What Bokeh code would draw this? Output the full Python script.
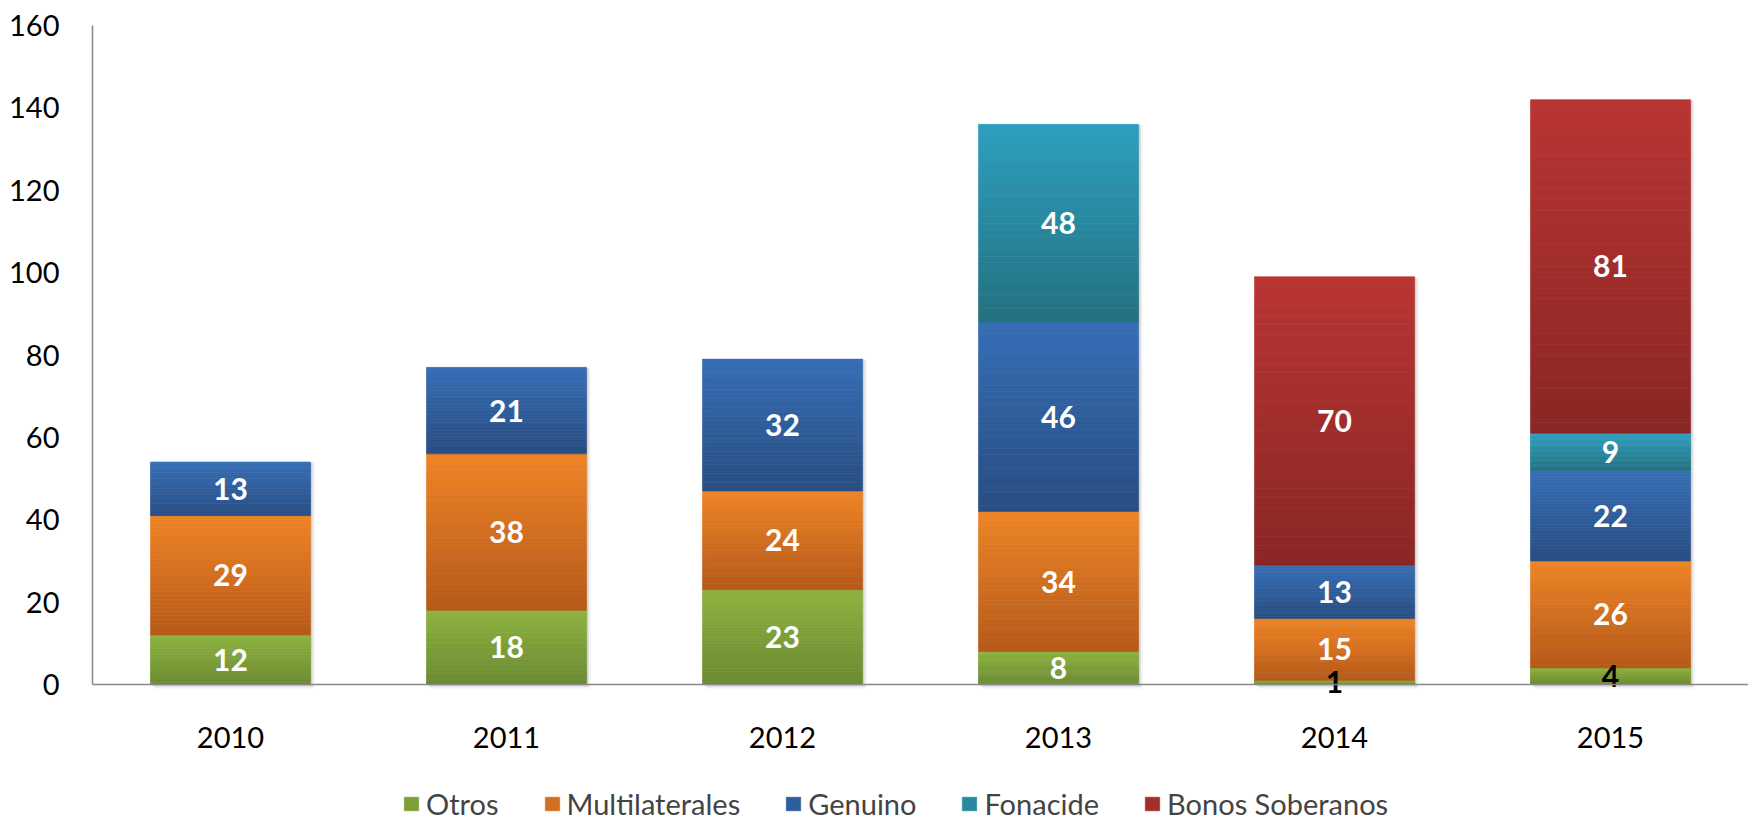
import numpy as np
from bokeh.plotting import figure
from bokeh.models import ColumnDataSource, FactorRange, Range1d, Legend, LegendItem, FixedTicker, Span
from bokeh.transform import dodge
from bokeh.core.properties import value
from bokeh.embed import file_html
from bokeh.resources import INLINE

# ---- data ----
years = ["2010", "2011", "2012", "2013", "2014", "2015"]
series_names = ["Otros", "Multilaterales", "Genuino", "Fonacide", "Bonos Soberanos"]
otros = [12, 18, 23, 8, 1, 4]
multilaterales = [29, 38, 24, 34, 15, 26]
genuino = [13, 21, 32, 46, 13, 22]
fonacide = [0, 0, 0, 48, 0, 9]
bonos_soberanos = [0, 0, 0, 0, 70, 81]
y_ticks = [0, 20, 40, 60, 80, 100, 120, 140, 160]

series_values = [otros, multilaterales, genuino, fonacide, bonos_soberanos]
top_colors = ["#8DB33F", "#EF8426", "#366EB5", "#2E9FBF", "#B93533"]
bottom_colors = ["#6A8A31", "#B5591A", "#284D82", "#22717F", "#892624"]

FONT = "Lato"
N_SLICES = 30
BAR_W = 0.58

# ---- layout (pixels) ----
W, H = 1748, 822
LEFT, TOP = 92, 25
ZERO_PX = 684          # pixel row of value 0
Y_MAX = 160
px_per_unit = (ZERO_PX - TOP) / Y_MAX
y_min = -(H - ZERO_PX) / px_per_unit
xlabel_y = -(737 - ZERO_PX) / px_per_unit
x_px_per_unit = (W - LEFT) / len(years)


def hex2rgb(h):
    h = h.lstrip("#")
    return np.array([int(h[i:i + 2], 16) for i in (0, 2, 4)], dtype=float)


def mix(c_bot, c_top, t):
    a, b = hex2rgb(c_bot), hex2rgb(c_top)
    c = a + (b - a) * t
    return "#%02x%02x%02x" % tuple(int(round(v)) for v in c)


p = figure(width=W, height=H, x_range=FactorRange(factors=years),
           y_range=Range1d(y_min, Y_MAX), output_backend="svg", toolbar_location=None,
           title=None, min_border_left=LEFT, min_border_right=0,
           min_border_top=TOP, min_border_bottom=0)
p.outline_line_color = None
p.xgrid.visible = False
p.ygrid.visible = False
p.background_fill_color = "white"

totals = [sum(s[j] for s in series_values) for j in range(len(years))]

# soft shadow behind each bar
for off_px, alpha in ((4, 0.10), (2.5, 0.14), (1.2, 0.18)):
    p.vbar(x=dodge("x", off_px / x_px_per_unit, range=p.x_range),
           top="top", bottom="bottom", width=BAR_W,
           source=ColumnDataSource(dict(x=years, top=[t - off_px / px_per_unit * 0.3 for t in totals],
                                        bottom=[-off_px / px_per_unit for _ in totals])),
           fill_color="#808080", fill_alpha=alpha, line_color=None)

bases = [0.0] * len(years)
legend_items = []
lbl = dict(x=[], y=[], text=[], color=[])
for si, vals in enumerate(series_values):
    d = dict(x=[], top=[], bottom=[], color=[])
    mid_index = None
    for j, v in enumerate(vals):
        if v <= 0:
            continue
        b0 = bases[j]
        for k in range(N_SLICES):
            if mid_index is None and k == N_SLICES // 2:
                mid_index = len(d["x"])
            d["x"].append(years[j])
            d["bottom"].append(b0 + v * k / N_SLICES)
            d["top"].append(b0 + v * (k + 1) / N_SLICES)
            d["color"].append(mix(bottom_colors[si], top_colors[si], (k + 0.5) / N_SLICES))
        lbl["x"].append(years[j])
        lbl["y"].append(b0 + v / 2)
        lbl["text"].append(str(v))
        lbl["color"].append("white" if v >= 5 else "black")
        bases[j] = b0 + v
    src = ColumnDataSource(d)
    r = p.vbar(x="x", top="top", bottom="bottom", width=BAR_W, source=src,
               fill_color="color", line_color="color", line_width=0.6)
    legend_items.append(LegendItem(label=series_names[si], renderers=[r], index=mid_index))

p.text(x="x", y="y", text="text", text_color="color", source=ColumnDataSource(lbl),
       text_font=value(FONT), text_font_style="bold", text_font_size="30px",
       text_align="center", text_baseline="middle")

# category labels below the zero line
p.text(x=years, y=[xlabel_y] * len(years), text=years, text_color="black",
       text_font=value(FONT), text_font_size="29px",
       text_align="center", text_baseline="middle")

# zero axis line
p.add_layout(Span(location=0, dimension="width", line_color="#888888", line_width=1.5))
p.xaxis.visible = False

ax = p.yaxis[0]
ax.bounds = (0, Y_MAX)
ax.axis_line_color = "#888888"
ax.axis_line_width = 1.5
ax.major_tick_line_color = None
ax.minor_tick_line_color = None
ax.major_tick_out = 0
ax.major_tick_in = 0
ax.minor_tick_out = 0
ax.major_label_text_font = FONT
ax.major_label_text_font_size = "29px"
ax.major_label_text_color = "black"
ax.ticker = FixedTicker(ticks=y_ticks)
ax.major_label_standoff = 33

legend = Legend(items=legend_items, orientation="horizontal", location=(310, 1),
                label_text_font=FONT, label_text_font_size="29px",
                glyph_width=18, glyph_height=17, label_standoff=6, spacing=44,
                border_line_color=None, background_fill_alpha=0, padding=0, margin=0)
p.add_layout(legend, "center")

open("out.html", "w").write(file_html(p, INLINE))
